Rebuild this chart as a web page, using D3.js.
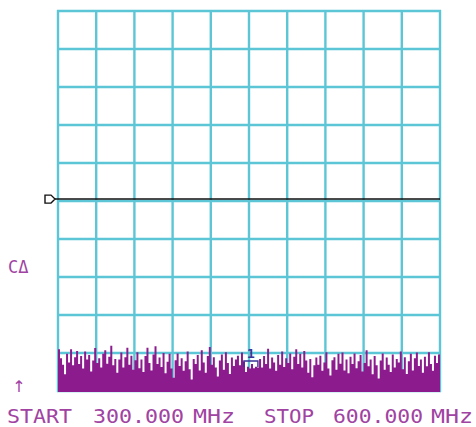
<!DOCTYPE html>
<html><head><meta charset="utf-8">
<script src="https://cdn.jsdelivr.net/npm/d3@7"></script>
<style>html,body{margin:0;padding:0;background:#fff;}svg{display:block;}</style>
</head><body>
<svg id="c" width="476" height="427"></svg>
<script>
const startFreq = 300, stopFreq = 600;      // MHz
const refLevel = 0, bottomLevel = -100;     // dB, 10 dB/div
const xDivisions = 10, yDivisions = 10;
const displayLine = -49.5;                  // dB
const markerFreq = 451.5, markerLabel = "1";
const footerLabels = ["START", "300.000", "MHz", "STOP", "600.000", "MHz"];
const sideLabel = "CΔ";
const noise = [
 -89.0,-91.4,-93.1,-95.6,-90.2,-92.5,-89.0,-93.2,-91.1,-89.5,
 -92.9,-90.8,-94.1,-89.6,-91.7,-90.5,-94.9,-92.0,-88.7,-92.6,
 -91.4,-93.8,-90.2,-89.3,-92.8,-91.0,-88.1,-93.2,-91.6,-95.2,
 -91.7,-89.9,-93.8,-91.1,-88.6,-93.1,-90.7,-94.4,-91.9,-89.8,
 -94.0,-91.7,-95.0,-90.8,-88.6,-92.6,-94.6,-90.4,-88.2,-92.9,
 -91.2,-93.7,-90.0,-95.3,-92.3,-90.2,-94.1,-96.5,-91.9,-90.1,
 -93.4,-91.4,-94.7,-92.2,-89.6,-94.3,-97.0,-91.6,-92.9,-90.5,
 -94.6,-89.3,-92.5,-95.2,-90.8,-88.4,-93.1,-91.1,-93.8,-96.2,
 -92.0,-90.4,-94.4,-89.8,-92.6,-95.5,-91.2,-93.4,-91.7,-90.7,
 -93.2,-89.9,-92.3,-95.0,-93.6,-94.1,-92.9,-94.0,-93.6,-93.8,
 -91.6,-93.8,-90.8,-92.9,-88.9,-94.1,-91.2,-92.5,-94.7,-90.5,
 -93.1,-89.6,-93.7,-91.4,-92.6,-90.1,-94.3,-91.0,-89.0,-92.9,
 -90.2,-93.8,-89.5,-92.0,-95.2,-91.6,-96.4,-93.2,-91.2,-93.1,
 -90.7,-94.7,-92.5,-89.8,-94.1,-95.9,-91.9,-91.1,-94.4,-90.2,
 -92.8,-89.9,-94.6,-91.7,-95.3,-91.0,-92.9,-90.1,-94.0,-92.2,
 -90.5,-94.9,-92.6,-89.3,-93.5,-91.7,-95.6,-90.8,-93.2,-96.7,
 -92.0,-90.1,-94.4,-91.2,-93.1,-95.0,-90.4,-93.8,-91.6,-92.5,
 -89.6,-94.3,-91.1,-95.5,-92.2,-90.2,-94.6,-91.4,-89.9,-93.4,
 -91.7,-95.2,-91.0,-93.5,-89.8,-92.9,-94.7,-90.7,-92.6,-90.4,-88.7
];

const svg = d3.select("#c");
const x = d3.scaleLinear().domain([startFreq, stopFreq]).range([58, 440]);
const y = d3.scaleLinear().domain([bottomLevel, refLevel]).range([391, 11]);
const cyan = "#5cc6d6", purple = "#8c1c8e", textPurple = "#a043a2";

// grid
const xt = d3.range(xDivisions + 1).map(i => startFreq + i * (stopFreq - startFreq) / xDivisions);
const yt = d3.range(yDivisions + 1).map(i => bottomLevel + i * (refLevel - bottomLevel) / yDivisions);
const grid = svg.append("g");
grid.selectAll("line.v").data(xt).join("line").attr("class","v")
  .attr("x1", d => x(d)).attr("x2", d => x(d)).attr("y1", y(refLevel) - 1).attr("y2", y(bottomLevel) + 1)
  .attr("stroke", cyan).attr("stroke-width", 2.4);
grid.selectAll("line.h").data(yt).join("line").attr("class","h")
  .attr("y1", d => y(d)).attr("y2", d => y(d)).attr("x1", x(startFreq) - 1).attr("x2", x(stopFreq) + 1)
  .attr("stroke", cyan).attr("stroke-width", 2.4);

// noise trace
const step = (stopFreq - startFreq) / (noise.length - 1);
const pts = noise.map((v, i) => ({f: startFreq + i * step, v}));
const area = d3.area().x(d => x(d.f)).y0(y(bottomLevel) + 1).y1(d => y(d.v)).curve(d3.curveStepAfter);
svg.append("path").datum(pts).attr("d", area).attr("fill", purple);

// display line
svg.append("line").attr("x1", x(startFreq) - 3).attr("x2", x(stopFreq)).attr("y1", y(displayLine)).attr("y2", y(displayLine))
  .attr("stroke", "#111").attr("stroke-width", 1.5);
const ly = y(displayLine);
svg.append("path").attr("d", `M45,${ly-4} h6 l4,4 l-4,4 h-6 z`).attr("fill", "#fff").attr("stroke", "#111").attr("stroke-width", 1.4);

// marker
const mx = x(markerFreq);
svg.append("text").attr("x", mx).attr("y", 358).attr("text-anchor", "middle")
  .attr("font-family", "DejaVu Sans Mono").attr("font-weight", "bold").attr("font-size", 13).attr("fill", "#3b3596").text(markerLabel);
svg.append("path").attr("d", `M${mx-7},367 V361 H${mx+7} V367`).attr("fill", "none").attr("stroke", "#3b3596").attr("stroke-width", 1.4);

// side labels
svg.append("text").attr("x", 8).attr("y", 273).attr("font-family", "DejaVu Sans Mono").attr("font-size", 17)
  .attr("fill", textPurple).text(sideLabel);
svg.append("text").attr("x", 19).attr("y", 392).attr("text-anchor", "middle").attr("font-family", "DejaVu Sans")
  .attr("font-size", 16).attr("fill", textPurple).text("↑");

// footer
const fpos = [[7,65],[93,91],[193,42],[264,50],[333,90],[431,42]];
svg.selectAll("text.f").data(footerLabels).join("text").attr("class","f")
  .attr("x", (d,i) => fpos[i][0]).attr("y", 423)
  .attr("textLength", (d,i) => fpos[i][1]).attr("lengthAdjust", "spacingAndGlyphs")
  .attr("font-family", "DejaVu Sans Mono").attr("font-size", 19.5).attr("fill", textPurple)
  .text(d => d);
</script>
</body></html>
